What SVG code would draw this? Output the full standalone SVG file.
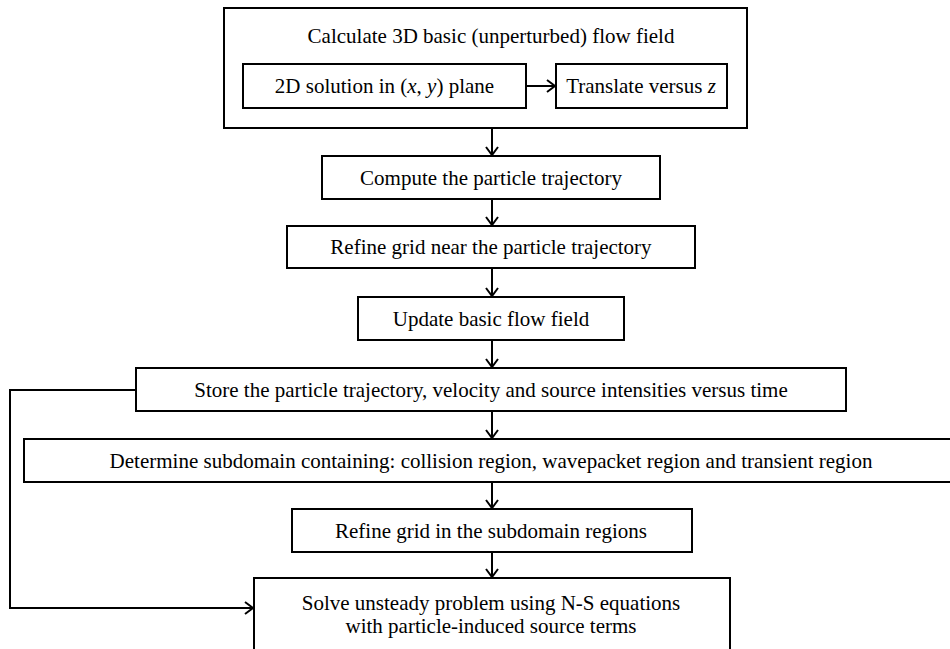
<svg xmlns="http://www.w3.org/2000/svg" width="950" height="649" viewBox="0 0 950 649">
<style>
.box{fill:#fff;stroke:#000;stroke-width:2}
.t{font-family:"Liberation Serif","Times New Roman",serif;font-size:21px;fill:#000;text-anchor:middle}
.i{font-style:italic}
.c{fill:none;stroke:#000;stroke-width:2}
</style>
<defs>
<marker id="ah" viewBox="-10 -8 12 16" markerWidth="12" markerHeight="16" refX="0" refY="0" orient="auto" markerUnits="userSpaceOnUse">
<path d="M-8,-6 L0,0 L-8,6" fill="none" stroke="#000" stroke-width="2"/>
</marker>
</defs>
<rect width="950" height="649" fill="#fff"/>
<g id="n-calc">
<rect class="box" x="224" y="8" width="523" height="120"/>
<text class="t" x="491" y="43">Calculate 3D basic (unperturbed) flow field</text>
</g>
<g id="n-2d">
<rect class="box" x="243" y="64" width="283" height="44"/>
<text class="t" x="384.5" y="93">2D solution in (<tspan class="i">x</tspan>, <tspan class="i">y</tspan>) plane</text>
</g>
<g id="n-translate">
<rect class="box" x="556" y="64" width="171" height="44"/>
<text class="t" x="641" y="93">Translate versus <tspan class="i">z</tspan></text>
</g>
<g id="n-compute">
<rect class="box" x="322" y="156" width="338" height="43"/>
<text class="t" x="491" y="185">Compute the particle trajectory</text>
</g>
<g id="n-refine1">
<rect class="box" x="287" y="226" width="408" height="42"/>
<text class="t" x="491" y="254">Refine grid near the particle trajectory</text>
</g>
<g id="n-update">
<rect class="box" x="358" y="297" width="266" height="43"/>
<text class="t" x="491" y="326">Update basic flow field</text>
</g>
<g id="n-store">
<rect class="box" x="136" y="368" width="710" height="43"/>
<text class="t" x="491" y="397">Store the particle trajectory, velocity and source intensities versus time</text>
</g>
<g id="n-determine">
<rect class="box" x="24" y="439" width="940" height="43"/>
<text class="t" x="491" y="468">Determine subdomain containing: collision region, wavepacket region and transient region</text>
</g>
<g id="n-refine2">
<rect class="box" x="292" y="509" width="400" height="43"/>
<text class="t" x="491" y="538">Refine grid in the subdomain regions</text>
</g>
<g id="n-solve">
<rect class="box" x="254" y="578" width="476" height="90"/>
<text class="t" x="491" y="610">Solve unsteady problem using N-S equations</text>
<text class="t" x="491" y="633">with particle-induced source terms</text>
</g>
<g id="connectors">
<line class="c" x1="526" y1="86" x2="555" y2="86" marker-end="url(#ah)"/>
<line class="c" x1="492" y1="128" x2="492" y2="155" marker-end="url(#ah)"/>
<line class="c" x1="492" y1="199" x2="492" y2="225" marker-end="url(#ah)"/>
<line class="c" x1="492" y1="268" x2="492" y2="296" marker-end="url(#ah)"/>
<line class="c" x1="492" y1="340" x2="492" y2="367" marker-end="url(#ah)"/>
<line class="c" x1="492" y1="411" x2="492" y2="438" marker-end="url(#ah)"/>
<line class="c" x1="492" y1="482" x2="492" y2="508" marker-end="url(#ah)"/>
<line class="c" x1="492" y1="552" x2="492" y2="577" marker-end="url(#ah)"/>
<polyline class="c" points="136,390 10,390 10,608 253,608" marker-end="url(#ah)"/>
</g>
</svg>
